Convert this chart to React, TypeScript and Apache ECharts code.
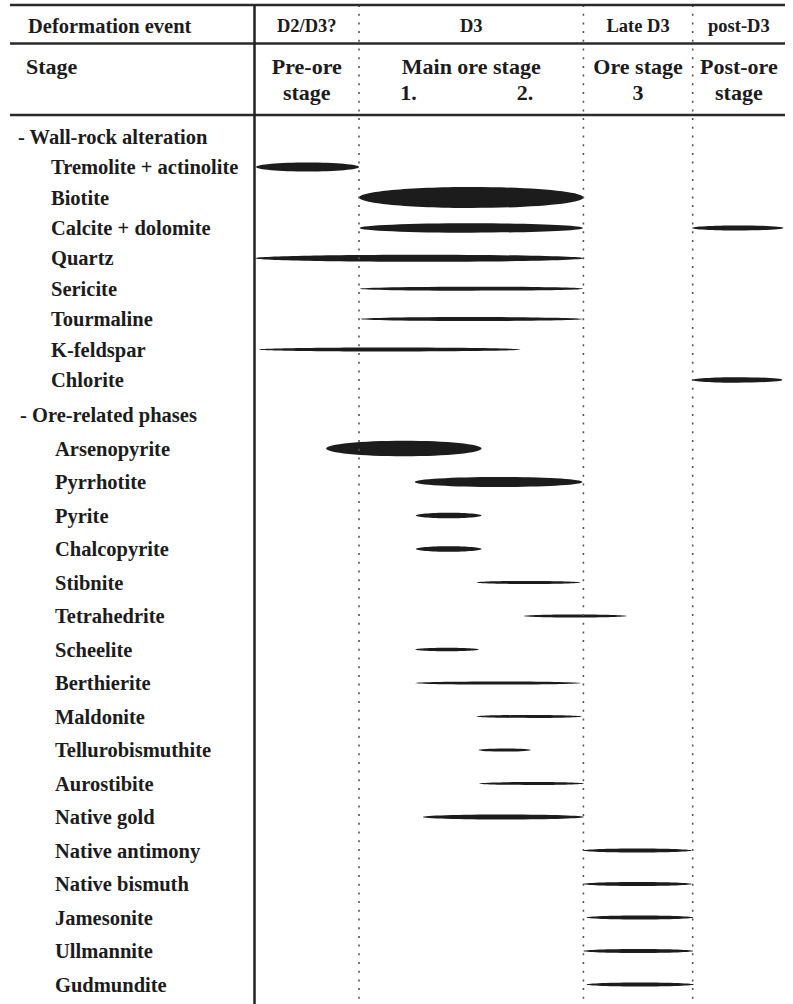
import React, { useEffect, useRef } from "react";
import * as echarts from "echarts";

// ---------- data ----------
const wallRockHeader = "- Wall-rock alteration";
const oreHeader = "- Ore-related phases";
const wallRockMinerals = [
  "Tremolite + actinolite", "Biotite", "Calcite + dolomite", "Quartz",
  "Sericite", "Tourmaline", "K-feldspar", "Chlorite",
];
const oreMinerals = [
  "Arsenopyrite", "Pyrrhotite", "Pyrite", "Chalcopyrite", "Stibnite",
  "Tetrahedrite", "Scheelite", "Berthierite", "Maldonite", "Tellurobismuthite",
  "Aurostibite", "Native gold", "Native antimony", "Native bismuth",
  "Jamesonite", "Ullmannite", "Gudmundite",
];

// relative paragenetic time, 0–100; stage boundaries
const stageBounds = [19.7, 62.0, 82.6];
const deformationEvents = ["D2/D3?", "D3", "Late D3", "post-D3"];
const stageLine1 = ["Pre-ore", "Main ore stage", "Ore stage", "Post-ore"];
const stageLine2 = ["stage", "", "3", "stage"];
const subStages = ["1.", "2."];

// wall-rock alteration intervals
const wallPhase = [
  "Tremolite + actinolite", "Biotite", "Calcite + dolomite", "Calcite + dolomite",
  "Quartz", "Sericite", "Tourmaline", "K-feldspar", "Chlorite",
];
const wallFrom = [0.3, 19.7, 19.8, 82.5, 0.1, 19.9, 20.0, 0.8, 82.5];
const wallTo = [19.7, 62.0, 61.9, 99.7, 62.0, 61.9, 61.9, 50.2, 99.5];
const wallAbundance = [9, 21, 9.5, 5, 7, 4, 4, 4, 5.5];

// ore-related phase intervals
const orePhase = oreMinerals.slice();
const oreFrom = [13.5, 30.2, 30.4, 30.4, 41.9, 50.8, 30.3, 30.3, 41.9, 42.2, 42.3, 31.7, 62.0, 62.0, 62.6, 62.0, 62.6];
const oreTo = [42.8, 61.8, 42.8, 42.8, 61.4, 70.1, 42.3, 61.5, 61.7, 52.1, 62.1, 62.1, 82.4, 82.4, 82.7, 82.7, 82.8];
const oreAbundance = [15.5, 10, 5.5, 5.5, 3, 3, 3.5, 3.2, 3, 3.2, 3, 5, 4, 4, 4, 4, 4];

// ---------- styling ----------
const FONT = "'Liberation Serif', 'Times New Roman', serif";
const INK = "#1c1c1c";

const renderLens = (params: any, api: any) => {
  const a = api.coord([api.value(0), api.value(2)]);
  const b = api.coord([api.value(1), api.value(2)]);
  const h = api.value(3);
  return {
    type: "ellipse",
    shape: { cx: (a[0] + b[0]) / 2, cy: a[1], rx: Math.abs(b[0] - a[0]) / 2, ry: h / 2 },
    style: { fill: INK },
  };
};

const labelFormatter = (v: string) => (v.startsWith("- ") ? `{h|${v}}` : `{i|${v}}`);
const richFor = (indent: number) => ({
  h: { fontFamily: FONT, fontWeight: "bold", fontSize: 20.5, color: INK },
  i: { fontFamily: FONT, fontWeight: "bold", fontSize: 20.5, color: INK, padding: [0, 0, 0, indent] },
});

export default function App() {
  const ref = useRef<HTMLDivElement>(null);
  useEffect(() => {
    if (!ref.current) return;
    const chart = echarts.init(ref.current, undefined, { renderer: "svg" });
    const left = 254.5;
    const right = 8;
    const yAxisCommon = {
      type: "category",
      inverse: true,
      axisLine: { show: false },
      axisTick: { show: false },
      splitLine: { show: false },
    };
    chart.setOption({
      animation: false,
      backgroundColor: "#ffffff",
      grid: [
        { left, right, top: 121.5, height: 273.6 },
        { left, right, top: 398.25, height: 603 },
      ],
      xAxis: [
        { type: "value", min: 0, max: 100, show: false, gridIndex: 0 },
        { type: "value", min: 0, max: 100, show: false, gridIndex: 1 },
      ],
      yAxis: [
        {
          ...yAxisCommon,
          gridIndex: 0,
          data: [wallRockHeader, ...wallRockMinerals],
          axisLabel: { align: "left", margin: left - 18, formatter: labelFormatter, rich: richFor(33) },
        },
        {
          ...yAxisCommon,
          gridIndex: 1,
          data: [oreHeader, ...oreMinerals],
          axisLabel: { align: "left", margin: left - 20, formatter: labelFormatter, rich: richFor(35) },
        },
      ],
      series: [
        {
          type: "custom",
          xAxisIndex: 0,
          yAxisIndex: 0,
          clip: false,
          renderItem: renderLens,
          encode: { x: [0, 1], y: 2 },
          data: wallPhase.map((p, i) => [wallFrom[i], wallTo[i], p, wallAbundance[i]]),
        },
        {
          type: "custom",
          xAxisIndex: 1,
          yAxisIndex: 1,
          clip: false,
          renderItem: renderLens,
          encode: { x: [0, 1], y: 2 },
          data: orePhase.map((p, i) => [oreFrom[i], oreTo[i], p, oreAbundance[i]]),
        },
      ],
    });

    const xp = (v: number) => chart.convertToPixel({ xAxisIndex: 0 }, v) as number;
    const x0 = xp(0);
    const xEnd = xp(100);
    const bounds = [x0, ...stageBounds.map(xp), xEnd];
    const top = 5;
    const bottom = 1004;
    const graphic: any[] = [];
    [5, 43.5, 115].forEach((y) => {
      graphic.push({
        type: "line",
        shape: { x1: 10, y1: y, x2: xEnd, y2: y },
        style: { stroke: "#2a2a2a", lineWidth: 2.5 },
        z: 10,
      });
    });
    graphic.push({
      type: "line",
      shape: { x1: x0, y1: top, x2: x0, y2: bottom },
      style: { stroke: "#222", lineWidth: 2.5 },
      z: 10,
    });
    stageBounds.forEach((b) => {
      const x = xp(b);
      graphic.push({
        type: "line",
        shape: { x1: x, y1: top, x2: x, y2: bottom },
        style: { stroke: "#555", lineWidth: 1.6, lineDash: [2, 6.7] },
        z: 9,
      });
    });
    const txt = (text: string, x: number, y: number, size: number, align = "center") => ({
      type: "text",
      x,
      y,
      style: {
        text,
        fontFamily: FONT,
        fontWeight: "bold",
        fontSize: size,
        fill: INK,
        align,
        verticalAlign: "middle",
      },
      z: 11,
    });
    graphic.push(txt("Deformation event", 28, 26, 20.5, "left"));
    graphic.push(txt("Stage", 26, 66, 22, "left"));
    deformationEvents.forEach((t, i) => {
      const cx = (bounds[i] + bounds[i + 1]) / 2;
      graphic.push(txt(t, cx, 26, 18.5));
      graphic.push(txt(stageLine1[i], cx, 66, 22));
      if (stageLine2[i]) graphic.push(txt(stageLine2[i], cx, 92, 22));
    });
    const mainW = bounds[2] - bounds[1];
    graphic.push(txt(subStages[0], bounds[1] + mainW * 0.22, 92, 22));
    graphic.push(txt(subStages[1], bounds[1] + mainW * 0.74, 92, 22));
    chart.setOption({ graphic });

    return () => chart.dispose();
  }, []);
  return (
    <div
      ref={ref}
      style={{ position: "fixed", left: 0, top: 0, width: 793, height: 1004, background: "#fff" }}
    />
  );
}
